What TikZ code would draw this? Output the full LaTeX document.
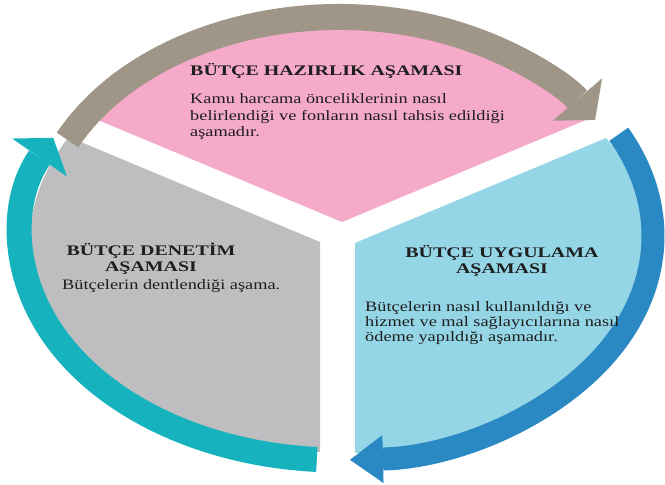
\documentclass[tikz,border=0pt]{standalone}
\usepackage{fontspec}
\setmainfont{Liberation Serif}[FakeStretch=1.27]
\newfontfamily\headfont{Liberation Serif}[FakeStretch=1.36]
\usetikzlibrary{arrows.meta}
\definecolor{prepPink}{RGB}{244,170,200}
\definecolor{prepBand}{RGB}{160,150,136}
\definecolor{auditGrey}{RGB}{190,190,192}
\definecolor{auditBand}{RGB}{22,178,190}
\definecolor{execBlue}{RGB}{148,214,230}
\definecolor{execBand}{RGB}{42,136,195}
\definecolor{ink}{RGB}{30,30,30}

\begin{document}
\begin{tikzpicture}[x=0.03cm, y=0.03cm,
    band/.style={line width=0.76cm},
    head/.style={font=\headfont\bfseries\fontsize{12.5}{13.6}\selectfont, text=ink, inner sep=0pt, align=center},
    body/.style={font=\fontsize{12.3}{14.2}\selectfont, text=ink, inner sep=0pt, align=left}]
    \useasboundingbox (0,0) rectangle (665,485);
    \coordinate (pieCentre) at (339,249);
    \coordinate (prepApex) at (342,263);
    \coordinate (auditApex) at (320,243);
    \coordinate (execApex) at (355,242);
    % the three slices
    \fill[prepPink] (prepApex) -- ++(30:290 and 210) arc[start angle=30, end angle=150, x radius=290, y radius=210] -- cycle;
    \fill[auditGrey] (auditApex) -- ++(150:290 and 210) arc[start angle=150, end angle=270, x radius=290, y radius=210] -- cycle;
    \fill[execBlue] (execApex) -- ++(-90:290 and 210) arc[start angle=-90, end angle=30, x radius=290, y radius=210] -- cycle;
    % cycle arrows
    \draw[band, prepBand, line width=0.78cm, -{Triangle[length=0.81cm, width=1.95cm, line width=0pt]}] (pieCentre) ++(154:302 and 219) arc[start angle=154, end angle=32, x radius=302, y radius=219];
    \draw[band, execBand, line width=0.69cm, -{Triangle[length=0.99cm, width=1.44cm, line width=0pt]}] (pieCentre) ++(27:314 and 224) arc[start angle=27, end angle=-88, x radius=314, y radius=224];
    \draw[band, auditBand, line width=0.75cm, -{Triangle[length=0.72cm, width=2.0cm, line width=0pt]}] (pieCentre) ++(266:318 and 224) arc[start angle=266, end angle=154, x radius=318, y radius=224];
    % texts (base = last line)
    \node[head, anchor=base west] (prepHead) at (190,409) {BÜTÇE HAZIRLIK AŞAMASI};
    \node[body, anchor=base west] (prepBody) at (190,348.3) {Kamu harcama önceliklerinin nasıl\\belirlendiği ve fonların nasıl tahsis edildiği\\aşamadır.};
    \node[head, anchor=base] (auditHead) at (151,213.7) {BÜTÇE DENETİM\\AŞAMASI};
    \node[body, anchor=base west] (auditBody) at (62,195.7) {Bütçelerin dentlendiği aşama.};
    \node[head, anchor=base] (execHead) at (502,211.7) {BÜTÇE UYGULAMA\\AŞAMASI};
    \node[body, anchor=base west, font=\fontsize{12.3}{12.8}\selectfont] (execBody) at (365,143.3) {Bütçelerin nasıl kullanıldığı ve\\hizmet ve mal sağlayıcılarına nasıl\\ödeme yapıldığı aşamadır.};
\end{tikzpicture}
\end{document}
